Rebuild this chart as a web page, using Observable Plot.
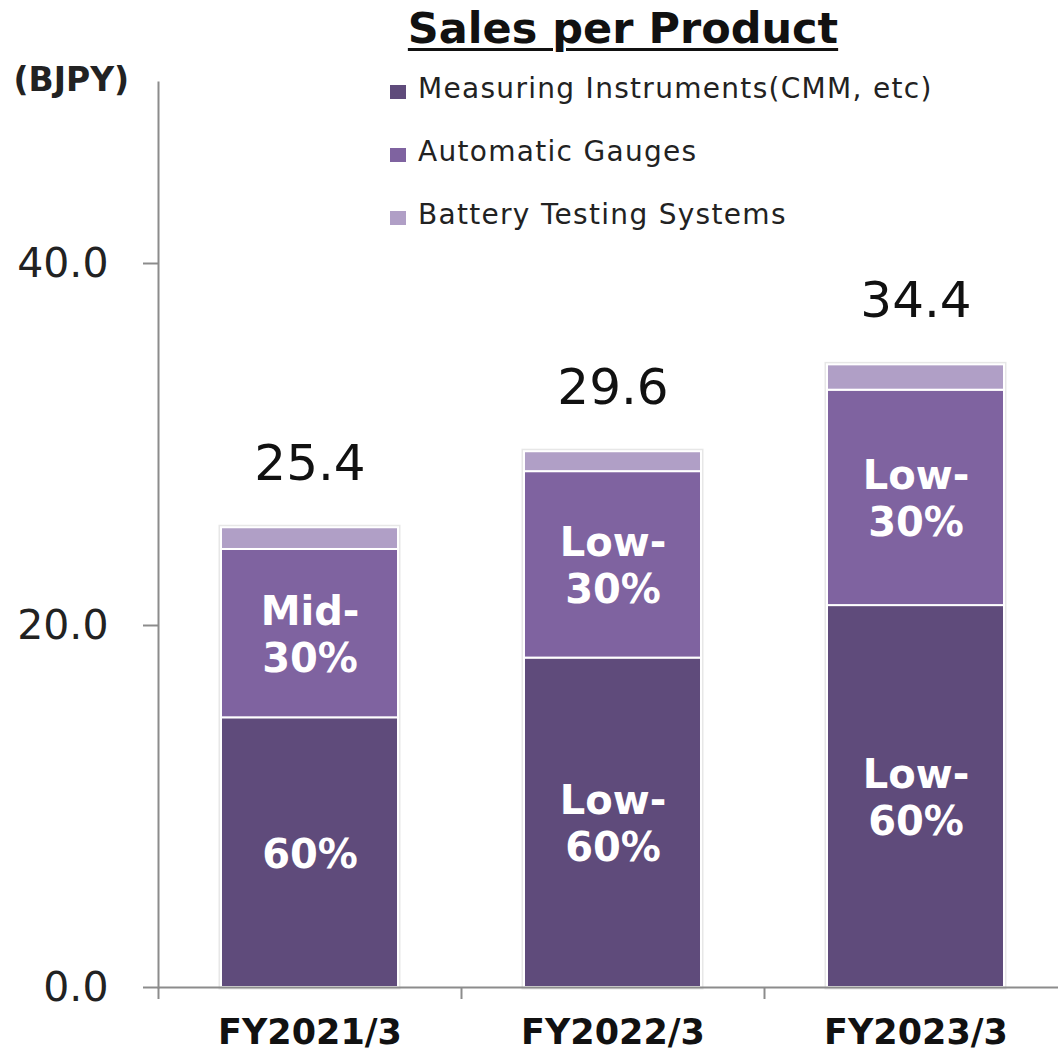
<!DOCTYPE html>
<html><head><meta charset="utf-8">
<script src="https://cdn.jsdelivr.net/npm/d3@7"></script>
<script src="https://cdn.jsdelivr.net/npm/@observablehq/plot@0.6"></script>
<style>
body{margin:0;background:#fff;font-family:"DejaVu Sans",sans-serif;}
#wrap{position:relative;width:1058px;height:1051px;overflow:hidden;}
#title{box-sizing:border-box;width:1058px;height:62px;line-height:56px;font-size:43px;font-weight:bold;text-align:center;padding-left:188px;text-decoration:underline;text-decoration-thickness:3px;text-underline-offset:5px;color:#111;}
#legend{position:absolute;left:390px;top:57px;}
.item{display:flex;align-items:center;height:63px;font-size:28px;letter-spacing:1.3px;color:#222;}
.sw{width:16px;height:14px;margin-right:12px;margin-top:6px;flex:none}
#chart svg{display:block;overflow:visible}
</style></head>
<body>
<div id="wrap">
<div id="title">Sales per Product</div>
<div id="chart"></div>
<div id="legend"></div>
</div>
<script>
const categories = ["FY2021/3", "FY2022/3", "FY2023/3"];
const products = ["Measuring Instruments(CMM, etc)", "Automatic Gauges", "Battery Testing Systems"];
const measuring = [14.9, 18.2, 21.1];
const automatic = [9.3, 10.3, 11.9];
const battery = [1.2, 1.1, 1.4];
const totals = [25.4, 29.6, 34.4];
const measuringLabels = ["60%", "Low-\n60%", "Low-\n60%"];
const automaticLabels = ["Mid-\n30%", "Low-\n30%", "Low-\n30%"];
const batteryLabels = ["", "", ""];
const colors = ["#5f4b7b", "#7f63a0", "#b09fc6"];
const yTicks = [0, 20, 40];
const yLabel = "(BJPY)";

const series = [measuring, automatic, battery];
const seriesLabels = [measuringLabels, automaticLabels, batteryLabels];
const rows = [];
categories.forEach((c, i) => {
  products.forEach((p, j) => {
    rows.push({category: c, product: p, value: series[j][i], label: seriesLabels[j][i]});
  });
});
const totalRows = categories.map((c, i) => ({category: c, total: totals[i]}));

const W = 1058, H = 989;
const xRange = [158, 1067];
const step = (xRange[1] - xRange[0]) / categories.length;
const axisColor = "#8c8c8c";

const chart = Plot.plot({
  width: W, height: H,
  marginTop: 20, marginBottom: 64, marginLeft: 158, marginRight: 0,
  style: {fontFamily: "DejaVu Sans, sans-serif", background: "#fff", overflow: "visible"},
  x: {domain: categories, range: xRange, paddingInner: 0.416, paddingOuter: 0.208, label: null},
  y: {domain: [0, 50], label: null},
  color: {domain: products, range: colors},
  marks: [
    Plot.barY(totalRows, {x: "category", y: "total", fill: "none", stroke: "#d0d0d0", strokeWidth: 5, strokeOpacity: 0.5}),
    Plot.barY(rows, {x: "category", y: "value", fill: "product", stroke: "white", strokeWidth: 2}),
    Plot.text(rows, Plot.stackY({x: "category", y: "value", z: "product", text: "label", fill: "white", fontWeight: "bold", fontSize: 40, lineHeight: 1.17})),
    Plot.text(totalRows, {x: "category", y: "total", text: d => d.total.toFixed(1), dy: -64, fontSize: 50, fill: "#111", letterSpacing: 2}),
    Plot.ruleY([0], {stroke: axisColor, strokeWidth: 2}),
    Plot.frame({anchor: "left", stroke: axisColor, strokeWidth: 2}),
    Plot.axisY({ticks: yTicks, tickFormat: d3.format(".1f"), tickSize: 15, tickPadding: 35, fontSize: 41, stroke: axisColor, strokeWidth: 2, color: "#222", label: null}),
    Plot.axisX({ticks: categories, tickSize: 12, tickFormat: () => "", dx: -step / 2, stroke: axisColor, strokeWidth: 2, label: null}),
    Plot.axisX({ticks: categories, tickSize: 0, tickPadding: 32, fontSize: 35, fontWeight: "bold", color: "#111", letterSpacing: 1.5, label: null}),
    Plot.text([yLabel], {frameAnchor: "top-left", text: d => d, textAnchor: "start", lineAnchor: "middle", dx: -145, dy: -2, fontSize: 33, fontWeight: "bold", fill: "#222"})
  ]
});
document.getElementById("chart").appendChild(chart);

const legend = document.getElementById("legend");
products.forEach((p, j) => {
  const it = document.createElement("div");
  it.className = "item";
  const sw = document.createElement("div");
  sw.className = "sw";
  sw.style.background = colors[j];
  const t = document.createElement("span");
  t.textContent = p;
  it.appendChild(sw); it.appendChild(t);
  legend.appendChild(it);
});
</script>
</body></html>
